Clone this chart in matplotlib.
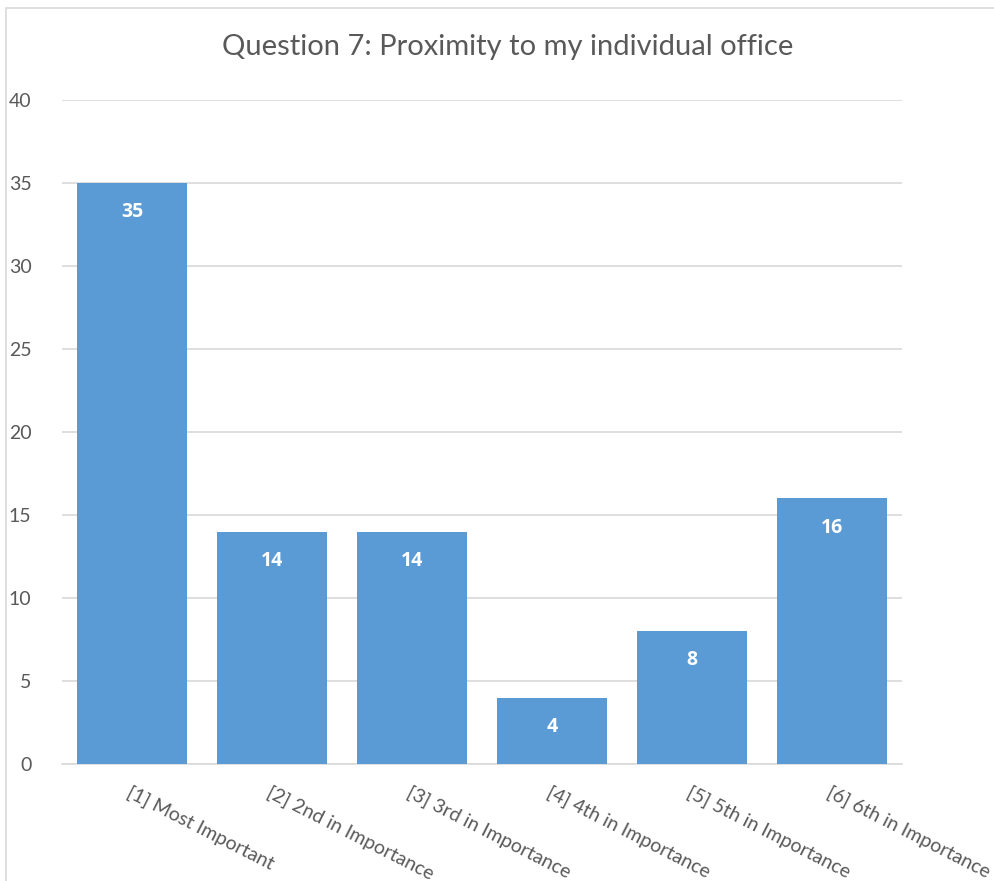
import matplotlib
matplotlib.use("Agg")
import matplotlib.pyplot as plt
from matplotlib.patches import Rectangle

categories = ["[1] Most Important", "[2] 2nd in Importance", "[3] 3rd in Importance",
              "[4] 4th in Importance", "[5] 5th in Importance", "[6] 6th in Importance"]
values = [35, 14, 14, 4, 8, 16]
yticks = [0, 5, 10, 15, 20, 25, 30, 35, 40]
title = "Question 7: Proximity to my individual office"

plt.rcParams['font.family'] = ['Lato', 'DejaVu Sans']
text_color = "#595959"
bar_color = "#5B9BD5"
grid_color = "#D9D9D9"

fig = plt.figure(figsize=(9.94, 8.81), dpi=100)
fig.patches.append(Rectangle((6/994, -0.1), 1.2, 1 - 8/881 + 0.1, transform=fig.transFigure,
                             fill=False, edgecolor="#D9D9D9", linewidth=1.2))
ax = fig.add_axes([62/994, 117/881, 840/994, 664/881])

x = list(range(len(categories)))
bars = ax.bar(x, values, width=0.79, color=bar_color, zorder=3)
ax.set_xlim(-0.5, len(categories) - 0.5)
ax.set_ylim(0, 40)
ax.set_yticks(yticks)
ax.yaxis.grid(True, color=grid_color, linewidth=1.2, zorder=0)
for s in ["top", "right", "left"]:
    ax.spines[s].set_visible(False)
ax.spines["bottom"].set_color(grid_color)
ax.spines["bottom"].set_linewidth(1.2)
ax.tick_params(axis="y", length=0, labelsize=14, labelcolor=text_color, pad=22)
ax.tick_params(axis="x", length=0)
ax.set_xticks(x)
ax.set_xticklabels(categories, rotation=-27, ha="left", va="top",
                   rotation_mode="anchor", fontsize=14, color=text_color)
for lbl in ax.get_xticklabels():
    lbl.set_y(-0.022)
for i, v in enumerate(values):
    ax.annotate(str(v), (i, v), xytext=(0, -21), textcoords="offset points",
                ha="center", va="center", color="white", fontsize=14, fontweight="bold",
                family=["Open Sans", "DejaVu Sans"])
fig.text(508/994, 1 - 47/881, title, ha="center", va="center", fontsize=21, color=text_color)
fig.savefig("out.png", dpi=100)
